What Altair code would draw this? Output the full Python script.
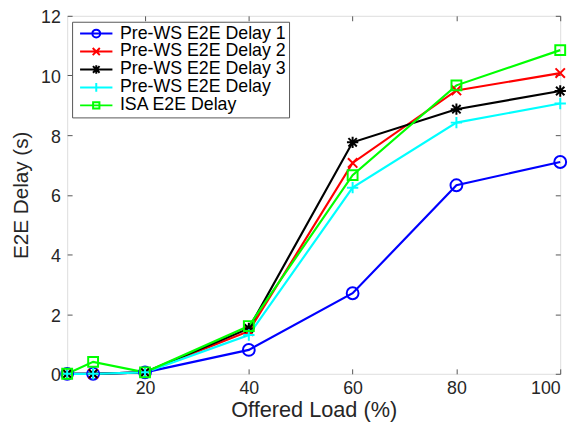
import altair as alt
import pandas as pd

loads = [5, 10, 20, 40, 60, 80, 100]
series_names = ["Pre-WS E2E Delay 1", "Pre-WS E2E Delay 2", "Pre-WS E2E Delay 3",
                "Pre-WS E2E Delay", "ISA E2E Delay"]
delay1 = [0.0, 0.0, 0.05, 0.80, 2.70, 6.32, 7.10]
delay2 = [0.0, 0.0, 0.05, 1.43, 7.07, 9.50, 10.08]
delay3 = [0.0, 0.0, 0.05, 1.52, 7.76, 8.87, 9.48]
delay0 = [0.0, 0.0, 0.05, 1.30, 6.24, 8.42, 9.06]
isa = [0.0, 0.40, 0.05, 1.60, 6.66, 9.67, 10.85]
x_ticks = [20, 40, 60, 80, 100]
y_ticks = [0, 2, 4, 6, 8, 10, 12]

colors = ["#0000FF", "#FF0000", "#000000", "#00FFFF", "#00FF00"]

# plot marker paths (unit = sqrt(size)/2)
marker_paths = [
    "M1.2,0A1.2,1.2,0,1,1,-1.2,0A1.2,1.2,0,1,1,1.2,0Z",
    "M-0.95,-0.95L0.95,0.95M-0.95,0.95L0.95,-0.95",
    "M-0.85,-0.85L0.85,0.85M-0.85,0.85L0.85,-0.85M-1.15,0H1.15M0,-1.15V1.15",
    "M-1.15,0H1.15M0,-1.15V1.15",
    "M-1,-1H1V1H-1Z",
]
line_seg = "M-2.05,0H2.05"
legend_paths = [
    line_seg + "M0.5,0A0.5,0.5,0,1,1,-0.5,0A0.5,0.5,0,1,1,0.5,0Z",
    line_seg + "M-0.45,-0.45L0.45,0.45M-0.45,0.45L0.45,-0.45",
    line_seg + "M-0.42,-0.42L0.42,0.42M-0.42,0.42L0.42,-0.42M0,-0.55V0.55",
    line_seg + "M0,-0.55V0.55",
    line_seg + "M-0.4,-0.4H0.4V0.4H-0.4Z",
]

all_vals = [delay1, delay2, delay3, delay0, isa]
rows = []
for i, (name, vals) in enumerate(zip(series_names, all_vals)):
    for xv, yv in zip(loads, vals):
        rows.append({"load": xv, "delay": yv, "series": name, "order": i,
                     "col": colors[i], "marker": marker_paths[i]})
df = pd.DataFrame(rows)
df_last = df[df["load"] == 100]

FONT = "Liberation Sans"
xscale = alt.Scale(domain=[5, 100], nice=False, zero=False)
yscale = alt.Scale(domain=[0, 12], nice=False)

base = alt.Chart(df)

lines = base.mark_line(strokeWidth=2.2).encode(
    x=alt.X("load:Q", scale=xscale, title="Offered Load (%)",
            axis=alt.Axis(orient="bottom", values=x_ticks, tickSize=0, domain=False,
                          grid=False, labelFontSize=18, labelPadding=6, labelFont=FONT,
                          labelColor="#262626", titleFontSize=22, titleFont=FONT,
                          titleFontWeight="normal", titleColor="#262626", titlePadding=2)),
    y=alt.Y("delay:Q", scale=yscale, title="E2E Delay (s)",
            axis=alt.Axis(orient="left", values=y_ticks, tickSize=0, domain=False,
                          grid=False, labelFontSize=18, labelPadding=7, labelFont=FONT,
                          labelOffset=2,
                          labelColor="#262626", titleFontSize=21, titleFont=FONT,
                          titleFontWeight="normal", titleColor="#262626", titlePadding=9)),
    color=alt.Color("col:N", scale=None),
    detail="series:N",
    order="load:Q",
)

tick_axis = dict(tickSize=5, domain=False, labels=False, grid=False, title=None,
                 tickColor="#555555", tickWidth=1)

points = base.mark_point(size=100, strokeWidth=2, filled=False, opacity=1).encode(
    x=alt.X("load:Q", scale=xscale,
            axis=alt.Axis(orient="bottom", values=x_ticks, offset=-5, **tick_axis)),
    y=alt.Y("delay:Q", scale=yscale,
            axis=alt.Axis(orient="left", values=y_ticks, offset=-5, **tick_axis)),
    color=alt.Color("col:N", scale=None),
    shape=alt.Shape("marker:N", scale=None),
)

legend_props = dict(title=None, orient="none", legendX=5, legendY=6,
                    labelFontSize=18, labelFont=FONT, labelColor="#000000",
                    labelLimit=400, symbolSize=256, symbolStrokeWidth=2,
                    symbolOpacity=1, symbolOffset=12.5, labelOffset=15,
                    padding=3, rowPadding=0.2, strokeColor="#555555",
                    fillColor="white")

legend_layer = alt.Chart(df_last).mark_point(size=256, strokeWidth=2, filled=False,
                                             opacity=0).encode(
    x=alt.X("load:Q", scale=xscale,
            axis=alt.Axis(orient="top", values=x_ticks, offset=-5, **tick_axis)),
    y=alt.Y("delay:Q", scale=yscale,
            axis=alt.Axis(orient="right", values=y_ticks, offset=-5, **tick_axis)),
    color=alt.Color("series:N", scale=alt.Scale(domain=series_names, range=colors),
                    legend=alt.Legend(**legend_props)),
    shape=alt.Shape("series:N", scale=alt.Scale(domain=series_names, range=legend_paths),
                    legend=alt.Legend(**legend_props)),
)

chart = alt.layer(lines, points, legend_layer).resolve_axis(
    x="independent", y="independent"
).properties(
    width=500, height=363,
    autosize=alt.AutoSizeParams(type="none"),
    padding={"left": 60, "top": 5, "right": 16, "bottom": 50},
).configure_view(
    stroke="#555555", strokeWidth=1
).configure(background="white")

chart.save("out.html", embed_options={"renderer": "svg", "actions": False})
